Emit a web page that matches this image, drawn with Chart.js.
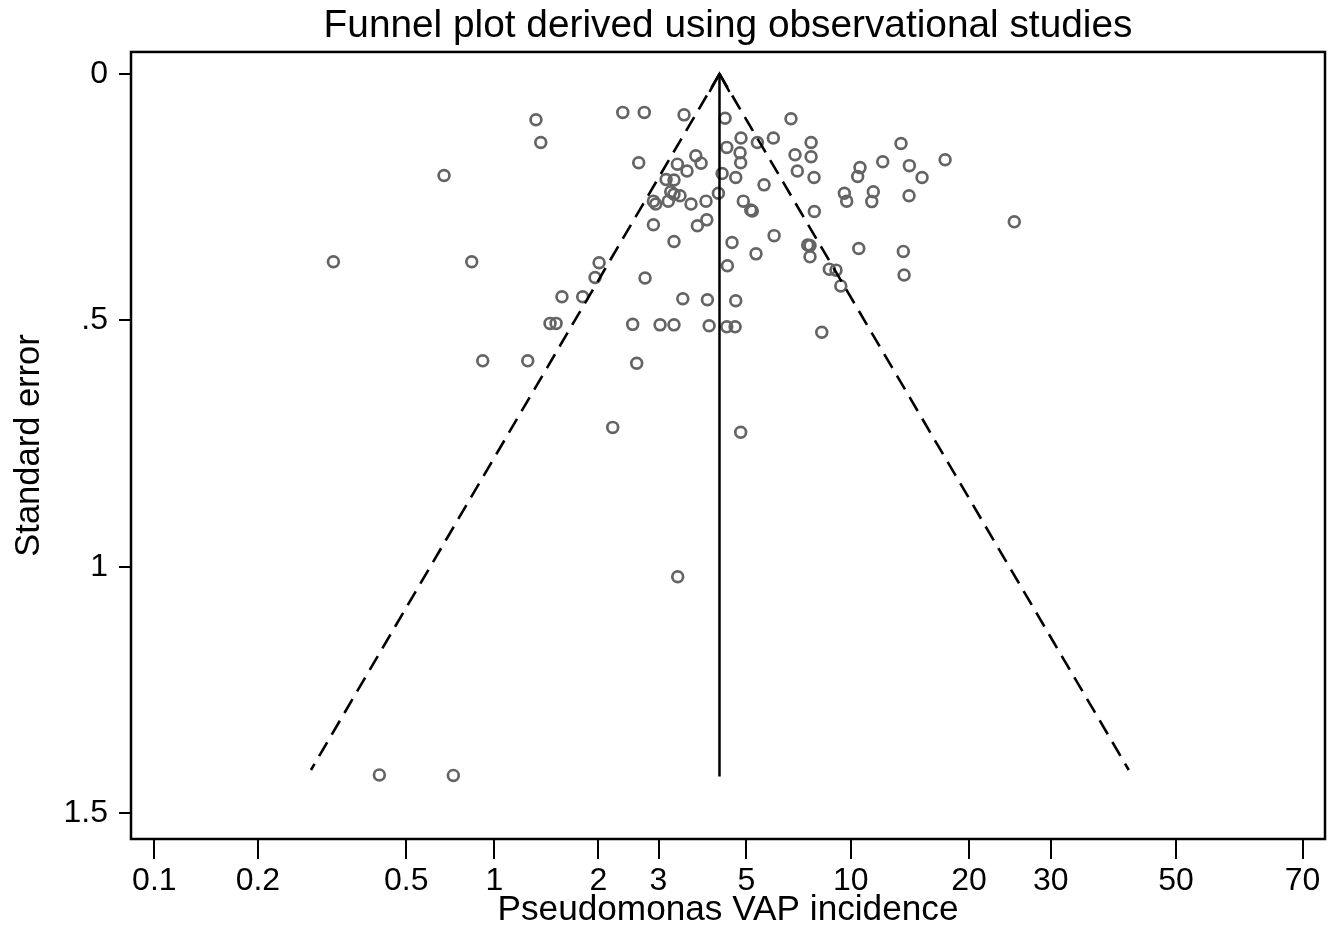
<!DOCTYPE html>
<html>
<head>
<meta charset="utf-8">
<script src="https://cdn.jsdelivr.net/npm/chart.js@4.4.1/dist/chart.umd.min.js"></script>
<style>
  html, body { margin: 0; padding: 0; background: #fff; }
  canvas { display: block; }
</style>
</head>
<body>
<canvas id="funnel" width="1342" height="931"></canvas>
<script>
// x is the log-incidence position as plotted, y is the standard error
const studyLogInc = [
  -1.040, -0.325, -0.146, -0.075, 0.216, 0.269, 0.300, 0.360, 0.399, 0.437,
  0.571, 0.651, 0.677, -0.743, -0.265, 0.765, 0.920, 1.592, 1.185, 2.116,
  0.830, 0.969, 1.226, 1.491, 1.917, 1.594, 1.700, 1.803, 1.943, 1.502,
  1.588, 1.592, 1.302, 1.336, 0.933, 1.183, 1.245, 1.958, 1.472, 1.560,
  1.743, 1.110, 1.161, 1.140, 1.161, 1.200, 1.124, 1.028, 1.043, 1.271,
  1.368, 1.448, 1.609, 1.657, 1.667, 1.028, 1.312, 1.373, 1.808, 1.161,
  1.536, 1.691, 1.506, 0.974, 1.218, 1.377, 1.560, 0.894, 1.071, 1.161,
  1.388, 1.502, 1.556, 2.047, 2.047, 2.066, 2.628, 2.510, 2.363, 2.348,
  2.682, 2.913, 2.764, 2.262, 2.277, 2.449, 2.439, 2.680, 2.068, 3.360,
  2.025, 2.040, 2.040, 2.355, 2.643, 2.648, 2.165, 2.208, 2.239
];
const studySE = [
  0.381, 0.206, 0.381, 0.582, 0.582, 0.093, 0.139, 0.506, 0.506, 0.452,
  0.452, 0.413, 0.383, 1.422, 1.423, 0.717, 0.587, 0.727, 1.020, 0.524,
  0.078, 0.078, 0.083, 0.090, 0.091, 0.130, 0.139, 0.130, 0.164, 0.149,
  0.160, 0.180, 0.166, 0.181, 0.180, 0.183, 0.197, 0.197, 0.202, 0.210,
  0.225, 0.214, 0.215, 0.239, 0.244, 0.247, 0.258, 0.258, 0.264, 0.264,
  0.258, 0.242, 0.258, 0.276, 0.278, 0.306, 0.308, 0.296, 0.328, 0.340,
  0.342, 0.365, 0.389, 0.414, 0.456, 0.458, 0.460, 0.508, 0.509, 0.509,
  0.511, 0.513, 0.513, 0.139, 0.168, 0.210, 0.141, 0.178, 0.190, 0.208,
  0.186, 0.174, 0.210, 0.242, 0.258, 0.239, 0.259, 0.247, 0.279, 0.300,
  0.347, 0.348, 0.371, 0.354, 0.360, 0.408, 0.396, 0.398, 0.430
];

const pooledLogInc = 1.455;
const pooledLineSE = [0, 1.425];
const funnelSE = [0, 1.412];
const funnelLeftX = [1.455, -1.185];
const funnelRightX = [1.455, 4.100];

const xTickPos = [-2.197, -1.528, -0.569, 0, 0.673, 1.061, 1.629, 2.303, 3.067, 3.596, 4.405, 5.223];
const xTickLabels = ['0.1', '0.2', '0.5', '1', '2', '3', '5', '10', '20', '30', '50', '70'];
const yTickVals = [0, 0.5, 1, 1.5];
const yTickLabels = ['0', '.5', '1', '1.5'];

const FONT = "'Liberation Sans', Arial, Helvetica, sans-serif";

function pairs(xs, ys) {
  return xs.map((x, i) => ({ x: x, y: ys[i] }));
}

// plot region frame and the arrow head on the pooled line
const framePlugin = {
  id: 'frame',
  afterDatasetsDraw(chart) {
    const { ctx, chartArea: a, scales } = chart;
    ctx.save();
    ctx.strokeStyle = '#000';
    ctx.lineWidth = 2.5;
    ctx.strokeRect(a.left, a.top, a.right - a.left, a.bottom - a.top);

    const px = scales.x.getPixelForValue(pooledLogInc);
    const py = scales.y.getPixelForValue(pooledLineSE[0]);
    ctx.lineWidth = 2.5;
    ctx.beginPath();
    ctx.moveTo(px - 10, py + 18);
    ctx.lineTo(px, py);
    ctx.lineTo(px + 10, py + 18);
    ctx.stroke();
    ctx.restore();
  }
};

new Chart(document.getElementById('funnel'), {
  type: 'scatter',
  data: {
    datasets: [
      {
        label: 'Studies',
        data: pairs(studyLogInc, studySE),
        pointStyle: 'circle',
        pointRadius: 5.4,
        pointBorderWidth: 2.7,
        pointBorderColor: '#646464',
        pointBackgroundColor: 'rgba(0,0,0,0)',
        order: 2
      },
      {
        type: 'line',
        label: 'Lower limit',
        data: pairs(funnelLeftX, funnelSE),
        borderColor: '#000',
        borderWidth: 2.6,
        borderDash: [16, 9],
        pointRadius: 0,
        fill: false,
        order: 1
      },
      {
        type: 'line',
        label: 'Upper limit',
        data: pairs(funnelRightX, funnelSE),
        borderColor: '#000',
        borderWidth: 2.6,
        borderDash: [16, 9],
        pointRadius: 0,
        fill: false,
        order: 1
      },
      {
        type: 'line',
        label: 'Pooled',
        data: pairs([pooledLogInc, pooledLogInc], pooledLineSE),
        borderColor: '#000',
        borderWidth: 2.5,
        pointRadius: 0,
        fill: false,
        order: 1
      }
    ]
  },
  options: {
    responsive: false,
    animation: false,
    layout: { padding: { left: 0, right: 17, top: 0, bottom: 0 } },
    plugins: {
      legend: { display: false },
      tooltip: { enabled: false },
      title: {
        display: true,
        fullSize: false,
        text: 'Funnel plot derived using observational studies',
        color: '#000',
        font: { family: FONT, size: 38.8, weight: 'normal', lineHeight: 1.2 },
        padding: { top: 3, bottom: 2.4 }
      }
    },
    scales: {
      x: {
        type: 'linear',
        min: -2.348,
        max: 5.368,
        afterBuildTicks: (scale) => { scale.ticks = xTickPos.map(v => ({ value: v })); },
        afterFit: (scale) => { scale.height = 92; },
        grid: { display: true, drawOnChartArea: false, tickLength: 20, color: '#000', lineWidth: 2 },
        border: { display: false },
        ticks: {
          autoSkip: false,
          maxRotation: 0,
          padding: 3,
          color: '#000',
          font: { family: FONT, size: 32, lineHeight: 1.2 },
          callback: (value, index) => xTickLabels[index]
        },
        title: {
          display: true,
          text: 'Pseudomonas VAP incidence',
          color: '#000',
          font: { family: FONT, size: 35.2, lineHeight: 1.2 },
          padding: { top: 0, bottom: 0 }
        }
      },
      y: {
        type: 'linear',
        reverse: true,
        min: -0.0446,
        max: 1.552,
        afterBuildTicks: (scale) => { scale.ticks = yTickVals.map(v => ({ value: v })); },
        afterFit: (scale) => { scale.width = 131; },
        grid: { display: true, drawOnChartArea: false, tickLength: 12, color: '#000', lineWidth: 2 },
        border: { display: false },
        ticks: {
          autoSkip: false,
          padding: 11,
          color: '#000',
          font: { family: FONT, size: 32, lineHeight: 1.2 },
          callback: (value, index) => yTickLabels[index]
        },
        title: {
          display: true,
          text: 'Standard error',
          color: '#000',
          font: { family: FONT, size: 34.5, lineHeight: 1.2 },
          padding: { top: 9, bottom: 0 }
        }
      }
    }
  },
  plugins: [framePlugin]
});
</script>
</body>
</html>
